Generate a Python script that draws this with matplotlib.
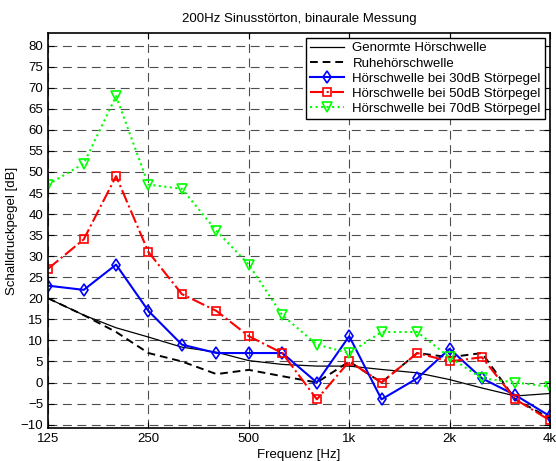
import numpy as np
import matplotlib
matplotlib.use("Agg")
import matplotlib.pyplot as plt
from matplotlib.ticker import FixedLocator, NullLocator

plt.rcParams['font.family'] = ['Liberation Sans', 'DejaVu Sans']

# Terzmittenfrequenzen
freq = [125, 160, 200, 250, 315, 400, 500, 630, 800, 1000,
        1250, 1600, 2000, 2500, 3150, 4000]

genormt = [20, 16, 13, 10.8, 8.4, 7.2, 5.2, 4.3, 3.9, 3.9,
           3.1, 2.3, 0.7, -1.3, -3.2, -2.6]
ruhe = [20, 16, 12, 7, 5, 2, 3, 1.5, 0, 5,
        0, 7, 6, 7, -4, -8.5]
stoer30 = [23, 22, 28, 17, 9, 7, 7, 7, 0, 11,
           -4, 1, 8, 1, -3, -8]
stoer50 = [27, 34, 49, 31, 21, 17, 11, 7, -4, 5,
           0, 7, 5, 6, -4, -9]
stoer70 = [47, 52, 68, 47, 46, 36, 28, 16, 9, 7,
           12, 12, 6, 1, 0, -1]

xticks = [125, 250, 500, 1000, 2000, 4000]
xticklabels = ['125', '250', '500', '1k', '2k', '4k']
yticks = list(range(-10, 85, 5))

fig = plt.figure(figsize=(5.56, 4.61), dpi=100)
ax = fig.add_axes([48 / 556, 33 / 461, 502 / 556, 395 / 461])

ax.plot(freq, genormt, color='black', lw=0.9, label='Genormte Hörschwelle')
ax.plot(freq, ruhe, color='black', lw=1.4, ls=(0, (4, 2.5)), label='Ruhehörschwelle')
ax.plot(freq, stoer30, color='blue', lw=1.5, marker='d', ms=6, mfc='none', mew=1.2,
        label='Hörschwelle bei 30dB Störpegel')
ax.plot(freq, stoer50, color='red', lw=1.5, ls='-.', marker='s', ms=5.5, mfc='none', mew=1.2,
        label='Hörschwelle bei 50dB Störpegel')
ax.plot(freq, stoer70, color='#00ff00', lw=1.5, ls=':', marker='v', ms=6.5, mfc='none', mew=1.2,
        label='Hörschwelle bei 70dB Störpegel')

ax.set_xscale('log')
ax.set_xlim(125, 4000)
ax.set_ylim(-10.8, 83)
ax.xaxis.set_major_locator(FixedLocator(xticks))
ax.xaxis.set_minor_locator(NullLocator())
ax.set_xticklabels(xticklabels)
ax.set_yticks(yticks)

ax.tick_params(direction='in', top=True, right=True, labelsize=9.5, length=4, width=0.8)
ax.grid(True, color='#222222', ls=(0, (8, 5)), lw=0.8, alpha=0.8)
for s in ax.spines.values():
    s.set_linewidth(1.2)

ax.set_title('200Hz Sinusstörton, binaurale Messung', fontsize=9.5, pad=8)
ax.set_xlabel('Frequenz [Hz]', fontsize=9.5, labelpad=3)
ax.set_ylabel('Schalldruckpegel [dB]', fontsize=9.5, labelpad=2)

leg = ax.legend(loc='upper right', fontsize=9.5, fancybox=False, framealpha=1,
                edgecolor='black', borderpad=0.3, labelspacing=0.22,
                handlelength=2.6, handletextpad=0.6, borderaxespad=0.4)
leg.get_frame().set_linewidth(1.0)

fig.savefig('out.png', dpi=100)
